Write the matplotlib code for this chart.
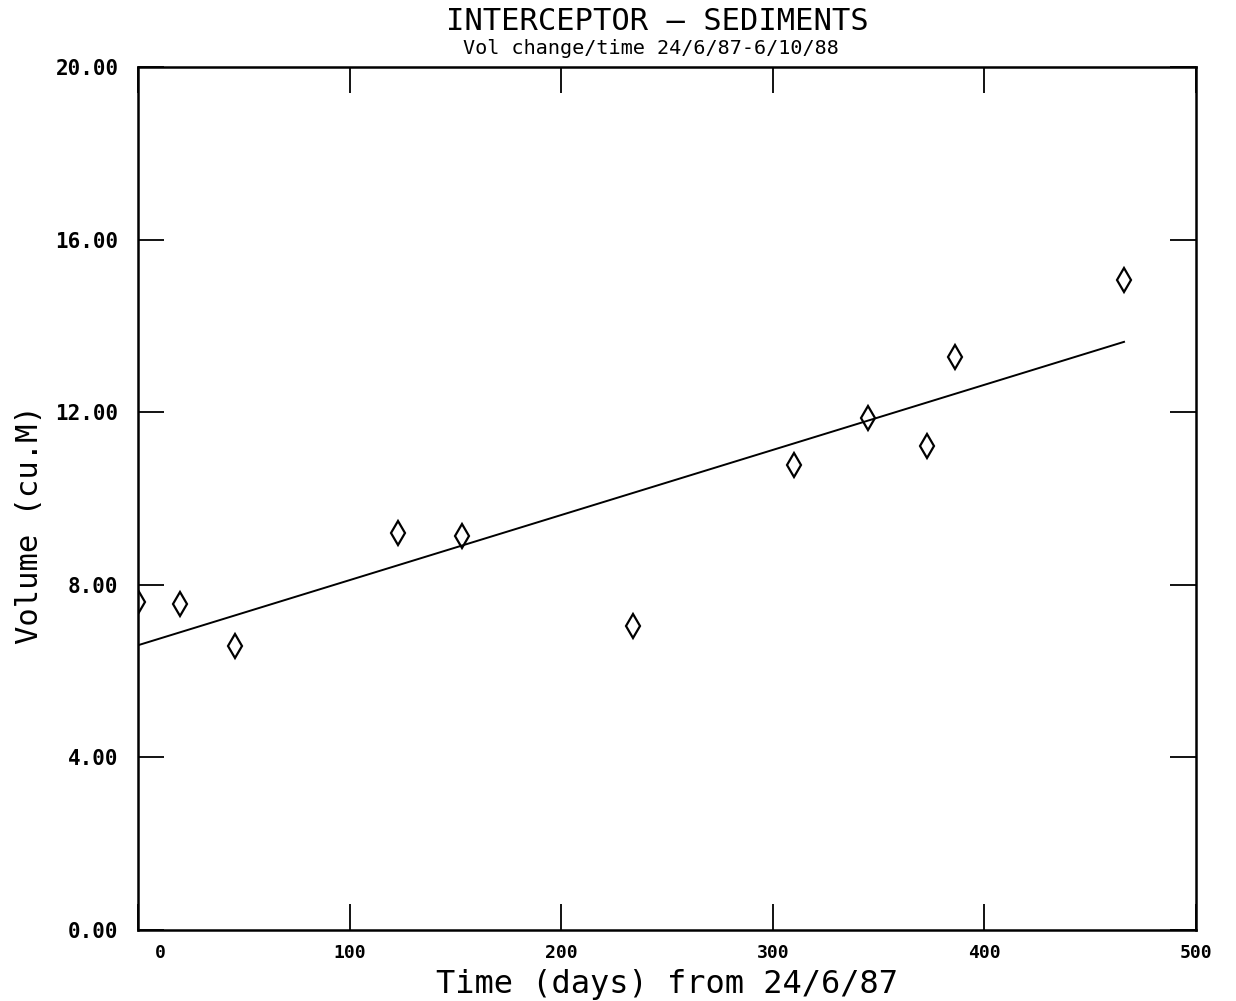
# Interceptor sediments - volume change with time

import numpy as np
import matplotlib.pyplot as plt
import matplotlib.transforms as mtransforms

# measured volumes (cu. m) against days from 24/6/87
dias = [0, 20, 46, 123, 153, 234, 310, 345, 373, 386, 466]
volume = [7.60, 7.55, 6.58, 9.20, 9.13, 7.05, 10.78, 11.87, 11.22, 13.28, 15.06]

# fitted trend line end points
reta_x = [0, 466]
reta_y = [6.60, 13.63]

x_ticks = [0, 100, 200, 300, 400, 500]
y_ticks = [0, 4, 8, 12, 16, 20]

fig = plt.figure(figsize=(12.36, 10.01), dpi=100)
ax = fig.add_axes([0.1117, 0.0709, 0.8559, 0.8622])

ax.plot(reta_x, reta_y, color='black', lw=1.4)
ax.plot(dias, volume, linestyle='none', marker='d', markersize=12,
        markerfacecolor='none', markeredgecolor='black', markeredgewidth=1.6)

ax.set_xlim(0, 500)
ax.set_ylim(0, 20)
ax.set_xticks(x_ticks)
ax.set_yticks(y_ticks)
ax.set_xticklabels([str(v) for v in x_ticks], family='DejaVu Sans Mono',
                   fontsize=13, fontweight='bold')
ax.set_yticklabels(['%.2f' % v for v in y_ticks], family='DejaVu Sans Mono',
                   fontsize=15, fontweight='bold')
ax.tick_params(direction='in', length=19, width=1.3, top=True, right=True)
ax.tick_params(axis='y', pad=14)
ax.tick_params(axis='x', pad=10)

# first x label sits to the right of the axis corner
lbl = ax.get_xticklabels()[0]
lbl.set_transform(lbl.get_transform() + mtransforms.ScaledTranslation(0.22, 0, fig.dpi_scale_trans))

for s in ax.spines.values():
    s.set_linewidth(1.8)

fig.text(0.532, 0.979, 'INTERCEPTOR \u2014 SEDIMENTS', ha='center', va='center',
         family='DejaVu Sans Mono', fontsize=22)
fig.text(0.527, 0.952, 'Vol change/time 24/6/87-6/10/88', ha='center', va='center',
         family='DejaVu Sans Mono', fontsize=14.5)
fig.text(0.54, 0.016, 'Time (days) from 24/6/87', ha='center', va='center',
         family='DejaVu Sans Mono', fontsize=23)
fig.text(0.024, 0.4755, 'Volume (cu.M)', ha='center', va='center', rotation=90,
         family='DejaVu Sans Mono', fontsize=22)

fig.savefig('out.png', dpi=100)
